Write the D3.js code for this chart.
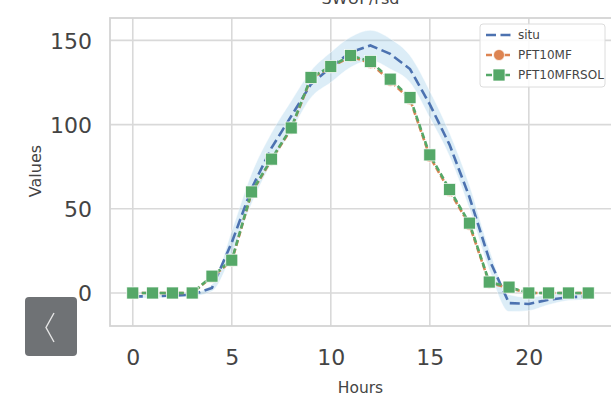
<!DOCTYPE html>
<html><head><meta charset="utf-8">
<script src="https://cdn.jsdelivr.net/npm/d3@7"></script>
<style>body{margin:0;background:#fff}svg{display:block}text{font-family:"DejaVu Sans",sans-serif}</style>
</head><body>
<svg id="c" width="611" height="396"></svg>
<script>
const hours = d3.range(0, 24);
const situ = [-2, -2, -1.5, -1, 3, 30, 62, 86, 105, 124, 134, 143, 147, 142, 133, 112, 88, 57, 20, -6, -6.5, -4, -2.5, -2];
const situCI = [1, 1, 1, 1, 2, 7, 9, 9, 9, 8, 9, 9, 9, 9, 8, 8, 7, 7, 6, 5, 4, 3, 2, 2];
const pft10mf = [0, 0, 0, 0, 9.5, 19, 59.5, 79, 97.5, 127.5, 134, 140.5, 136.5, 126, 115, 81, 60.5, 40.5, 6, 3, 0, 0, 0, 0];
const pft10mfrsol = [0, 0, 0, 0, 10, 19.5, 60, 79.5, 98, 128, 134.5, 141, 137.5, 127, 116, 82, 61.5, 41.5, 6.5, 3.5, 0, 0, 0, 0];
const xTicks = [0, 5, 10, 15, 20];
const yTicks = [0, 50, 100, 150];
const seriesNames = ["situ", "PFT10MF", "PFT10MFRSOL"];
const title = "SWUP/rsd";

const svg = d3.select("#c");
const L = 110, R = 611, T = 18, B = 326;
const x = d3.scaleLinear().domain([-1.15, 24.15]).range([L, R]);
const y = d3.scaleLinear().domain([-19.6, 163.3]).range([B, T]);
const grid = "#d9d9d9";

// grid
const g = svg.append("g");
g.selectAll(".gx").data(xTicks).join("line")
  .attr("x1", d => x(d)).attr("x2", d => x(d)).attr("y1", T).attr("y2", B)
  .attr("stroke", grid).attr("stroke-width", 1.6);
g.selectAll(".gy").data(yTicks).join("line")
  .attr("y1", d => y(d)).attr("y2", d => y(d)).attr("x1", L).attr("x2", R)
  .attr("stroke", grid).attr("stroke-width", 1.6);
svg.append("rect").attr("x", L).attr("y", T).attr("width", R - L + 2).attr("height", B - T)
  .attr("fill", "none").attr("stroke", "#d4d4d4").attr("stroke-width", 1.8);

// axes text
const xAxis = d3.axisBottom(x).tickValues(xTicks).tickSize(0).tickPadding(0);
const ax = svg.append("g").attr("transform", `translate(0,${B})`).call(xAxis);
ax.select(".domain").remove();
ax.selectAll("text").attr("y", 39).attr("dy", 0).attr("font-size", 22).attr("fill", "#444")
  .style("font-family", "DejaVu Sans");
const yAxis = d3.axisLeft(y).tickValues(yTicks).tickSize(0).tickPadding(0);
const ay = svg.append("g").attr("transform", `translate(${L - 18},0)`).call(yAxis);
ay.select(".domain").remove();
ay.selectAll("text").attr("x", 0).attr("dy", "0.36em").attr("font-size", 22).attr("fill", "#444")
  .style("font-family", "DejaVu Sans");

svg.append("text").attr("x", (L + R) / 2 + 0).attr("y", 393).attr("text-anchor", "middle")
  .attr("font-size", 15.5).attr("fill", "#444").text("Hours");
svg.append("text").attr("transform", "translate(41,171) rotate(-90)").attr("text-anchor", "middle")
  .attr("font-size", 16).attr("fill", "#444").text("Values");
svg.append("text").attr("x", (L + R) / 2).attr("y", 4).attr("text-anchor", "middle")
  .attr("font-size", 16).attr("fill", "#444").text(title);

// clip
svg.append("clipPath").attr("id", "clip").append("rect").attr("x", L).attr("y", T).attr("width", R - L).attr("height", B - T);
const plot = svg.append("g").attr("clip-path", "url(#clip)");

// band
const band = d3.area().curve(d3.curveMonotoneX).x((d, i) => x(hours[i])).y0((d, i) => y(situ[i] - situCI[i])).y1((d, i) => y(situ[i] + situCI[i]));
plot.append("path").datum(situ).attr("d", band).attr("fill", "#8cc3e6").attr("fill-opacity", 0.3)
  .attr("stroke", "#fff").attr("stroke-opacity", 0.6).attr("stroke-width", 0.8);

const line = d3.line().x((d, i) => x(hours[i])).y(d => y(d));
const colors = ["#4c72b0", "#dd8452", "#55a868"];
plot.append("path").datum(situ).attr("d", line).attr("fill", "none").attr("stroke", colors[0])
  .attr("stroke-width", 2.6).attr("stroke-dasharray", "10,4.5");
plot.append("path").datum(pft10mf).attr("d", line).attr("fill", "none").attr("stroke", colors[1])
  .attr("stroke-width", 2.6).attr("stroke-dasharray", "6,3");
plot.selectAll(".cm").data(pft10mf).join("circle")
  .attr("cx", (d, i) => x(hours[i])).attr("cy", d => y(d)).attr("r", 5.5)
  .attr("fill", colors[1]).attr("stroke", "#fff").attr("stroke-width", 0.7);
plot.append("path").datum(pft10mfrsol).attr("d", line).attr("fill", "none").attr("stroke", colors[2])
  .attr("stroke-width", 2.6).attr("stroke-dasharray", "6,3");
const s = 12;
plot.selectAll(".sm").data(pft10mfrsol).join("rect")
  .attr("x", (d, i) => x(hours[i]) - s / 2).attr("y", d => y(d) - s / 2).attr("width", s).attr("height", s)
  .attr("fill", colors[2]).attr("stroke", "#fff").attr("stroke-width", 0.7);

// legend
const lg = svg.append("g");
lg.append("rect").attr("x", 480).attr("y", 24).attr("width", 125).attr("height", 63).attr("rx", 3)
  .attr("fill", "#fff").attr("fill-opacity", 0.85).attr("stroke", "#dcdcdc").attr("stroke-width", 1);
const rows = [35, 55, 75];
seriesNames.forEach((n, i) => {
  const ry = rows[i];
  lg.append("line").attr("x1", 486).attr("x2", 512).attr("y1", ry).attr("y2", ry)
    .attr("stroke", colors[i]).attr("stroke-width", 2.6).attr("stroke-dasharray", i === 0 ? "10,4.5" : "6,3");
  if (i === 1) lg.append("circle").attr("cx", 499).attr("cy", ry).attr("r", 5.5).attr("fill", colors[1]).attr("stroke", "#fff").attr("stroke-width", 0.7);
  if (i === 2) lg.append("rect").attr("x", 499 - 6).attr("y", ry - 6).attr("width", 12).attr("height", 12).attr("fill", colors[2]).attr("stroke", "#fff").attr("stroke-width", 0.7);
  lg.append("text").attr("x", 518).attr("y", ry).attr("dy", "0.36em").attr("font-size", 12).attr("fill", "#444").text(n);
});

// carousel button overlay
svg.append("rect").attr("x", 25).attr("y", 297).attr("width", 52).attr("height", 59).attr("rx", 4).attr("fill", "#6f7275");
svg.append("path").attr("d", "M54,313 L46,327.5 L54,342").attr("fill", "none").attr("stroke", "#e6e6e6").attr("stroke-width", 1.4);
</script>
</body></html>
